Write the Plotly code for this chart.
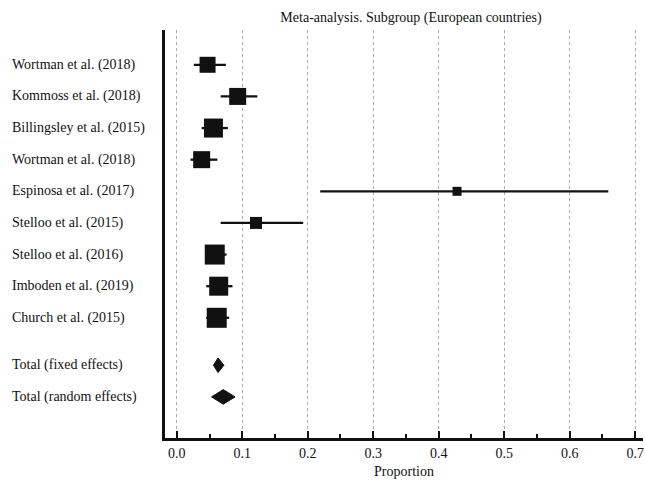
import plotly.graph_objects as go

studies = ["Wortman et al. (2018)", "Kommoss et al. (2018)", "Billingsley et al. (2015)",
           "Wortman et al. (2018)", "Espinosa et al. (2017)", "Stelloo et al. (2015)",
           "Stelloo et al. (2016)", "Imboden et al. (2019)", "Church et al. (2015)"]
est = [0.047, 0.093, 0.056, 0.038, 0.428, 0.121, 0.058, 0.064, 0.061]
lo = [0.026, 0.067, 0.038, 0.021, 0.219, 0.067, 0.043, 0.045, 0.045]
hi = [0.075, 0.123, 0.078, 0.062, 0.659, 0.193, 0.076, 0.085, 0.080]
weights = [16, 17, 19, 17, 9, 12, 20, 19, 20]

totals = ["Total (fixed effects)", "Total (random effects)"]
tot_est = [0.063, 0.071]
tot_lo = [0.056, 0.053]
tot_hi = [0.072, 0.089]

rows = list(range(len(studies)))
tot_rows = [len(studies) + 0.5, len(studies) + 1.5]

INK = "#111111"
SERIF = "Times New Roman, Liberation Serif, DejaVu Serif, serif"
fig = go.Figure()

# confidence interval lines
ci_x, ci_y = [], []
for r, l, h in zip(rows, lo, hi):
    ci_x += [l, h, None]
    ci_y += [r, r, None]
fig.add_trace(go.Scatter(x=ci_x, y=ci_y, mode="lines", line=dict(color=INK, width=2.3),
                         showlegend=False, hoverinfo="skip"))

# study squares
fig.add_trace(go.Scatter(
    x=est, y=rows, mode="markers",
    marker=dict(symbol="square", size=weights, color=INK, opacity=1, line=dict(width=0)),
    showlegend=False, hoverinfo="skip"))

# pooled diamonds
half_h = 0.23
for r, e, l, h in zip(tot_rows, tot_est, tot_lo, tot_hi):
    fig.add_trace(go.Scatter(
        x=[l, e, h, e, l], y=[r, r - half_h, r, r + half_h, r],
        mode="lines", fill="toself", fillcolor=INK,
        line=dict(color=INK, width=1), showlegend=False, hoverinfo="skip"))

for name, r in zip(studies + totals, rows + tot_rows):
    fig.add_annotation(text=name, xref="paper", yref="y", x=-0.324, y=r,
                       xanchor="left", yanchor="middle", showarrow=False,
                       font=dict(size=14, color=INK, family=SERIF))

fig.update_layout(
    width=645, height=485,
    margin=dict(l=165, r=2, t=30, b=47),
    paper_bgcolor="white", plot_bgcolor="white",
    font=dict(family=SERIF, size=14, color=INK),
    title=dict(text="Meta-analysis. Subgroup (European countries)", x=411 / 645, xref="container",
               xanchor="center", y=1 - 17 / 485, yref="container", yanchor="middle",
               font=dict(size=14, family=SERIF)),
    xaxis=dict(range=[-0.018, 0.712], tickvals=[0, 0.1, 0.2, 0.3, 0.4, 0.5, 0.6, 0.7],
               tickformat=".1f", ticks="inside", ticklen=7, tickwidth=1.5, tickcolor=INK,
               minor=dict(dtick=0.05, tick0=0, ticks="inside", ticklen=4, tickwidth=1.5,
                          tickcolor=INK, showgrid=False),
               showline=True, linecolor=INK, linewidth=2.5,
               showgrid=True, gridcolor="#aaaaaa", griddash="dot", gridwidth=1,
               zeroline=False, ticklabeloverflow="allow",
               title=dict(text="Proportion", standoff=7, font=dict(size=14, family=SERIF)),
               tickfont=dict(size=14, family=SERIF)),
    yaxis=dict(range=[11.8, -1.1], showticklabels=False, ticks="", showgrid=False,
               zeroline=False, showline=True, linecolor=INK, linewidth=2.5),
)

fig.write_html("out.html", config={"displayModeBar": False},
               post_script="document.body.style.margin='0';document.body.style.overflow='hidden';")
